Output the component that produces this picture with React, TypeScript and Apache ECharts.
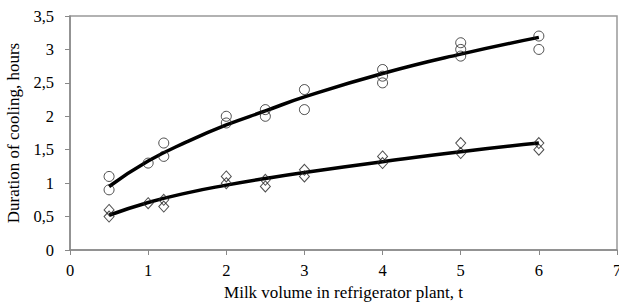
import React, { useEffect, useRef } from "react";
import * as echarts from "echarts";

const circleX = [0.5, 0.5, 1, 1.2, 1.2, 2, 2, 2.5, 2.5, 3, 3, 4, 4, 4, 5, 5, 5, 6, 6];
const circleY = [1.1, 0.9, 1.3, 1.6, 1.4, 2.0, 1.9, 2.1, 2.0, 2.4, 2.1, 2.7, 2.6, 2.5, 3.1, 3.0, 2.9, 3.2, 3.0];
const diamondX = [0.5, 0.5, 1, 1.2, 1.2, 2, 2, 2.5, 2.5, 3, 3, 4, 4, 5, 5, 6, 6];
const diamondY = [0.6, 0.5, 0.7, 0.75, 0.65, 1.1, 1.0, 1.05, 0.95, 1.2, 1.1, 1.4, 1.3, 1.6, 1.45, 1.6, 1.5];
const trendX = [0.5, 1, 1.5, 2, 2.5, 3, 4, 5, 6];
const circleTrend = [0.95, 1.33, 1.62, 1.87, 2.08, 2.29, 2.64, 2.93, 3.18];
const diamondTrend = [0.52, 0.71, 0.855, 0.97, 1.07, 1.16, 1.32, 1.47, 1.6];

const FONT = "'Liberation Serif', 'Times New Roman', serif";

export default function App() {
  const ref = useRef<HTMLDivElement>(null);
  useEffect(() => {
    if (!ref.current) return;
    const chart = echarts.init(ref.current, undefined, { renderer: "svg" });
    const zip = (xs: number[], ys: number[]) => xs.map((x, i) => [x, ys[i]]);
    chart.setOption({
      animation: false,
      grid: {
        left: 70, right: 2, top: 16, bottom: 56, show: true, borderColor: "#999", borderWidth: 1.5,
        containLabel: false, outerBoundsMode: "none",
      },
      xAxis: {
        type: "value", min: 0, max: 7, interval: 1,
        name: "Milk volume in refrigerator plant, t", nameLocation: "middle", nameGap: 34,
        nameTextStyle: { fontFamily: FONT, fontSize: 17, color: "#000" },
        axisLine: { lineStyle: { color: "#888", width: 1.5 } },
        axisTick: { show: true, length: 5, lineStyle: { color: "#888" } },
        axisLabel: { fontFamily: FONT, fontSize: 16.5, color: "#000", margin: 12 },
        splitLine: { show: false },
      },
      yAxis: {
        type: "value", min: 0, max: 3.5, interval: 0.5,
        name: "Duration of cooling, hours", nameLocation: "middle", nameGap: 43,
        nameTextStyle: { fontFamily: FONT, fontSize: 17, color: "#000" },
        axisLine: { show: true, lineStyle: { color: "#888", width: 1.5 } },
        axisTick: { show: true, length: 5, lineStyle: { color: "#888" } },
        axisLabel: {
          fontFamily: FONT, fontSize: 16.5, color: "#000", margin: 16,
          formatter: (v: number) => String(v).replace(".", ","),
        },
        splitLine: { show: false },
      },
      series: [
        {
          type: "line", data: zip(trendX, circleTrend), smooth: true, showSymbol: false,
          lineStyle: { color: "#000", width: 3.5 }, z: 2,
        },
        {
          type: "line", data: zip(trendX, diamondTrend), smooth: true, showSymbol: false,
          lineStyle: { color: "#000", width: 3.5 }, z: 2,
        },
        {
          type: "scatter", data: zip(circleX, circleY), symbol: "circle", symbolSize: 10,
          itemStyle: { color: "rgba(255,255,255,0)", borderColor: "#222", borderWidth: 1 }, z: 3,
        },
        {
          type: "scatter", data: zip(diamondX, diamondY), symbol: "diamond", symbolSize: [10, 11],
          itemStyle: { color: "rgba(255,255,255,0)", borderColor: "#222", borderWidth: 1 }, z: 3,
        },
      ],
    });
    return () => chart.dispose();
  }, []);
  return (
    <div
      ref={ref}
      style={{ position: "absolute", left: 0, top: 0, width: 619, height: 306, overflow: "hidden" }}
    />
  );
}
